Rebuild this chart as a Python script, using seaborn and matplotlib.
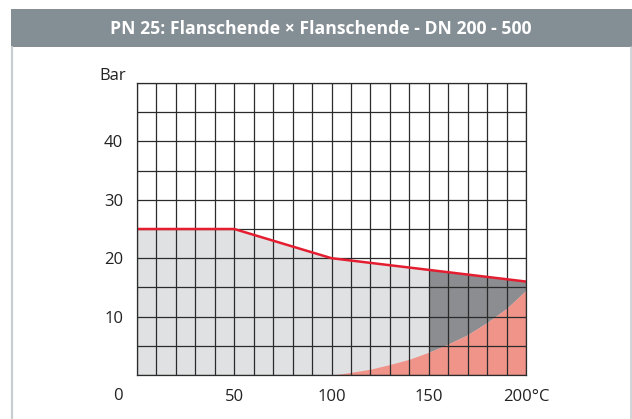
import numpy as np
import matplotlib
matplotlib.use("Agg")
import matplotlib.pyplot as plt
import seaborn as sns
import pandas as pd
from matplotlib.patches import Rectangle
from matplotlib.lines import Line2D

# ---- data ----
title = "PN 25: Flanschende × Flanschende - DN 200 - 500"
red_t = [0, 50, 100, 150, 200]
red_p = [25, 25, 20, 18, 16]
curve_t = [100, 105, 110, 120, 130, 140, 150, 160, 170, 180, 190, 200]
curve_p = [0, 0.2, 0.45, 1.0, 1.8, 2.7, 3.9, 5.3, 6.9, 9.0, 11.4, 14.5]
dark_start = 150
x_ticks = [0, 50, 100, 150, 200]
x_labels = ["", "50", "100", "150", "200°C"]
y_ticks = [0, 10, 20, 30, 40]
y_labels = ["", "10", "20", "30", "40"]

sns.set_style("white")
plt.rcParams['font.family'] = ['Open Sans', 'DejaVu Sans']

W, H = 632, 419
fig = plt.figure(figsize=(W / 100, H / 100), dpi=100)

# header bar and box
fig.add_artist(Rectangle((11 / W, 1 - 47 / H), 1 - 11 / W, 38 / H,
                         transform=fig.transFigure, color="#848e95", lw=0))
fig.text(321 / W, 1 - 28.5 / H, title, color="white", fontsize=12.7,
         fontweight="bold", ha="center", va="center")
fig.add_artist(Line2D([12 / W, 12 / W], [0, 1 - 47 / H], transform=fig.transFigure,
                      color="#c8cdd0", lw=1.6))
fig.add_artist(Line2D([630.5 / W, 630.5 / W], [0, 1 - 47 / H], transform=fig.transFigure,
                      color="#c8cdd0", lw=1.2))

ax = fig.add_axes([137 / W, 44 / H, (526 - 137) / W, (375 - 83) / H])

df_red = pd.DataFrame({"t": red_t, "p": red_p})

# light gray area under red line
ax.fill_between(red_t, 0, red_p, color="#e0e1e3", lw=0, zorder=1)
# dark gray area between curve and red line for t >= dark_start
ct = np.array(curve_t, dtype=float)
cp = np.array(curve_p, dtype=float)
mask = ct >= dark_start
ax.fill_between(ct[mask], cp[mask], np.interp(ct[mask], red_t, red_p),
                color="#8c8d90", lw=0, zorder=1.1)
# salmon area under curve
ax.fill_between(ct, 0, cp, color="#f09489", lw=0, zorder=1.2)

sns.lineplot(data=df_red, x="t", y="p", ax=ax, color="#e41e30", lw=1.8,
             zorder=3, estimator=None)

ax.set_xlim(0, 200)
ax.set_ylim(0, 50)
ax.set_xticks(x_ticks)
ax.set_xticklabels(x_labels)
ax.set_yticks(y_ticks)
ax.set_yticklabels(y_labels)
ax.set_xticks(np.arange(0, 201, 10), minor=True)
ax.set_yticks(np.arange(0, 51, 5), minor=True)
ax.set_axisbelow(False)
ax.grid(True, which="both", color="#2b2b2b", lw=0.9)
ax.tick_params(which="major", direction="out", length=4.5, width=0.9,
               color="#2b2b2b", labelsize=12, labelcolor="#222222", pad=5.5)
ax.tick_params(which="minor", length=0)
ax.set_xlabel("")
ax.set_ylabel("")
for s in ax.spines.values():
    s.set_color("#2b2b2b")
    s.set_linewidth(0.9)
    s.set_zorder(3)

fig.text(113 / W, 1 - 76 / H, "Bar", fontsize=12, color="#222222", ha="center", va="center")
fig.text(118 / W, 1 - 396 / H, "0", fontsize=12, color="#222222", ha="center", va="center")

fig.savefig("out.png", dpi=100)
